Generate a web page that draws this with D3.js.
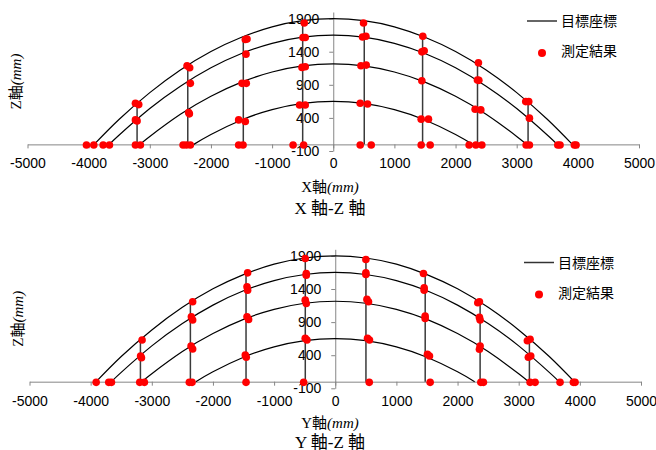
<!DOCTYPE html>
<html>
<head>
<meta charset="utf-8">
<script src="https://cdn.jsdelivr.net/npm/d3@7"></script>
<style>
  body { margin: 0; background: #fff; }
  svg { display: block; }
</style>
</head>
<body>
<div id="chart"></div>
<script>
// target curves (目標座標), [x, z] in mm
const target1 = [[-3910,0],[-3500,380],[-3000,782],[-2500,1124],[-2000,1403],[-1500,1618],[-1000,1776],[-500,1869],[0,1900],[500,1869],[1000,1776],[1500,1618],[2000,1403],[2500,1124],[3000,782],[3500,380],[3910,0]];
const target2 = [[-3660,0],[-3500,141],[-3000,541],[-2500,880],[-2000,1157],[-1500,1373],[-1000,1527],[-500,1619],[0,1650],[500,1619],[1000,1527],[1500,1373],[2000,1157],[2500,880],[3000,541],[3500,141],[3660,0]];
const target3 = [[-3160,0],[-3000,120],[-2500,455],[-2000,728],[-1500,941],[-1000,1093],[-500,1185],[0,1215],[500,1185],[1000,1093],[1500,941],[2000,728],[2500,455],[3000,120],[3160,0]];
const target4 = [[-2280,0],[-2000,150],[-1500,369],[-1000,525],[-500,619],[0,650],[500,619],[1000,525],[1500,369],[2000,150],[2280,0]];
const targets = [target1, target2, target3, target4];

// measuring stations: x position and top of the vertical line
const stationsXZ = [[-3208,632],[-2379,1200],[-1471,1610],[-500,1850],[507,1850],[1461,1635],[2359,1230],[3186,650]];
const stationsYZ = [[-3186,629],[-2369,1207],[-1459,1644],[-490,1861],[502,1846],[1471,1635],[2369,1200],[3175,630]];

// measured points (測定結果), X-Z
const groundXZ = [-4036,-3916,-3763,-3660,-3235,-3154,-2456,-2402,-2337,-1547,-1475,-657,-484,441,621,1438,1585,2222,2332,2430,3154,3208,3672,3709,3943,3971];
const measuredXZ = [[-3235,622],[-3181,601],[-3235,370],[-3208,355],
  [-2391,1187],[-2348,1157],[-2337,922],[-2364,480],[-2353,461],
  [-1410,1593],[-1438,1584],[-1427,1363],[-1492,922],[-1422,922],[-1547,370],[-1438,345],
  [-474,1834],[-495,1614],[-458,1614],[-511,1163],[-458,1172],[-551,596],[-458,596],
  [495,1834],[479,1623],[534,1634],[453,1187],[539,1198],[441,622],[561,611],
  [1465,1634],[1449,1398],[1487,1413],[1449,961],[1438,381],[1557,381],
  [2374,1232],[2358,972],[2381,967],[2320,531],[2413,521],
  [3148,646],[3197,646],[3208,396]];

// measured points, Y-Z
const groundYZ = [-3910,-3704,-3660,-3197,-3121,-2386,-2342,-1459,-517,556,1552,2381,2423,3186,3268,3676,3894,3922];
const measuredYZ = [[-3159,629],[-3183,388],[-3169,362],
  [-2332,1207],[-2353,980],[-2332,931],[-2358,538],[-2332,493],
  [-1433,1644],[-1443,1433],[-1433,1383],[-1443,980],[-1417,941],[-1471,403],[-1455,368],
  [-491,1861],[-474,1635],[-474,1609],[-491,1232],[-474,1182],[-491,655],[-463,629],
  [501,1846],[501,1644],[501,1620],[518,1243],[544,1207],[528,655],[560,629],
  [1443,1635],[1454,1418],[1454,1383],[1470,991],[1470,956],[1508,413],[1541,388],
  [2331,1192],[2358,1207],[2358,971],[2369,931],[2369,538],[2358,489],
  [3142,618],[3186,640],[3158,368],[3197,388]];

const xTicks = [-5000,-4000,-3000,-2000,-1000,0,1000,2000,3000,4000,5000];
const zTicks = [-100,400,900,1400,1900];
const legendLabels = ["目標座標", "測定結果"];

const width = 656, height = 450;
const svg = d3.select("#chart").append("svg")
  .attr("width", width)
  .attr("height", height);

const numFont = "'Liberation Sans', Arial, sans-serif";
const serifFont = "'Liberation Serif', 'Times New Roman', 'Noto Sans CJK JP', serif";
const cjkFont = "'Noto Sans CJK JP', sans-serif";
const plain = d => String(d);   // keep the ascii hyphen, no thousands comma

// ------------------------------------------------------------------

function drawPanel(p) {
  const xScale = d3.scaleLinear().domain([-5000, 5000]).range([p.left, p.right]);
  const zScale = d3.scaleLinear().domain([-100, 2000]).range([p.bottom, p.top]);
  const g = svg.append("g");

  // x axis on z = 0
  const xAxis = g.append("g")
    .attr("transform", `translate(0,${zScale(0)})`)
    .call(d3.axisBottom(xScale).tickValues(xTicks).tickSize(4).tickSizeOuter(0).tickPadding(10).tickFormat(plain));

  // z axis on x = 0
  const zAxis = g.append("g")
    .attr("transform", `translate(${xScale(0)},0)`)
    .call(d3.axisLeft(zScale).tickValues(zTicks).tickSize(4).tickSizeOuter(0).tickPadding(10).tickFormat(plain));

  [xAxis, zAxis].forEach(a => {
    a.select(".domain").attr("stroke", "#868686");
    a.selectAll(".tick line").attr("stroke", "#868686");
    a.selectAll("text").attr("fill", "#000").style("font-family", numFont).style("font-size", "14px");
  });

  // station lines
  g.append("g")
    .selectAll("line")
    .data(p.stations)
    .join("line")
    .attr("x1", d => xScale(d[0]))
    .attr("x2", d => xScale(d[0]))
    .attr("y1", zScale(0))
    .attr("y2", d => zScale(d[1]))
    .attr("stroke", "#3a3a3a")
    .attr("stroke-width", 1.5);

  // target curves
  const line = d3.line()
    .x(d => xScale(d[0]))
    .y(d => zScale(d[1]))
    .curve(d3.curveNatural);

  g.append("g")
    .selectAll("path")
    .data(targets)
    .join("path")
    .attr("d", line)
    .attr("fill", "none")
    .attr("stroke", "#000")
    .attr("stroke-width", 1.2);

  // measured points
  const pts = p.ground.map(x => [x, -10]).concat(p.measured);
  g.append("g")
    .selectAll("circle")
    .data(pts)
    .join("circle")
    .attr("cx", d => xScale(d[0]))
    .attr("cy", d => zScale(d[1]))
    .attr("r", 3.8)
    .attr("fill", "#ff0000");

  // axis titles
  const zTitle = g.append("text")
    .attr("transform", `translate(${p.zTitleX},${(p.top + p.bottom) / 2}) rotate(-90)`)
    .attr("text-anchor", "middle")
    .attr("dominant-baseline", "central")
    .style("font-family", serifFont)
    .style("font-size", "15px");
  zTitle.append("tspan").text("Z軸");
  zTitle.append("tspan").style("font-style", "italic").text("(mm)");

  const xTitle = g.append("text")
    .attr("x", 330)
    .attr("y", p.xTitleY)
    .attr("text-anchor", "middle")
    .attr("dominant-baseline", "central")
    .style("font-family", serifFont)
    .style("font-size", "15px");
  xTitle.append("tspan").text(p.axisName + "軸");
  xTitle.append("tspan").style("font-style", "italic").text("(mm)");

  g.append("text")
    .attr("x", 330)
    .attr("y", p.titleY)
    .attr("text-anchor", "middle")
    .attr("dominant-baseline", "central")
    .style("font-family", serifFont)
    .style("font-size", "17px")
    .text(p.axisName + " 軸-Z 軸");

  // legend
  const lg = g.append("g").attr("transform", `translate(${p.legendX},${p.legendY})`);
  lg.append("line")
    .attr("x1", 0).attr("x2", 30)
    .attr("y1", 1).attr("y2", 1)
    .attr("stroke", "#333")
    .attr("stroke-width", 1.5);
  lg.append("circle")
    .attr("cx", 15).attr("cy", 33)
    .attr("r", 4)
    .attr("fill", "#ff0000");
  lg.selectAll("text")
    .data(legendLabels)
    .join("text")
    .attr("x", 34)
    .attr("y", (d, i) => i * 30)
    .attr("dominant-baseline", "central")
    .style("font-family", cjkFont)
    .style("font-size", "14px")
    .attr("fill", "#000")
    .text(d => d);
}

drawPanel({
  left: 27.5, right: 639, top: 12, bottom: 151,
  stations: stationsXZ, ground: groundXZ, measured: measuredXZ,
  axisName: "X", zTitleX: 16, xTitleY: 187, titleY: 208,
  legendX: 527, legendY: 20
});

drawPanel({
  left: 29.5, right: 641, top: 249.3, bottom: 388.3,
  stations: stationsYZ, ground: groundYZ, measured: measuredYZ,
  axisName: "Y", zTitleX: 17.5, xTitleY: 423, titleY: 442,
  legendX: 524, legendY: 261.5
});
</script>
</body>
</html>
